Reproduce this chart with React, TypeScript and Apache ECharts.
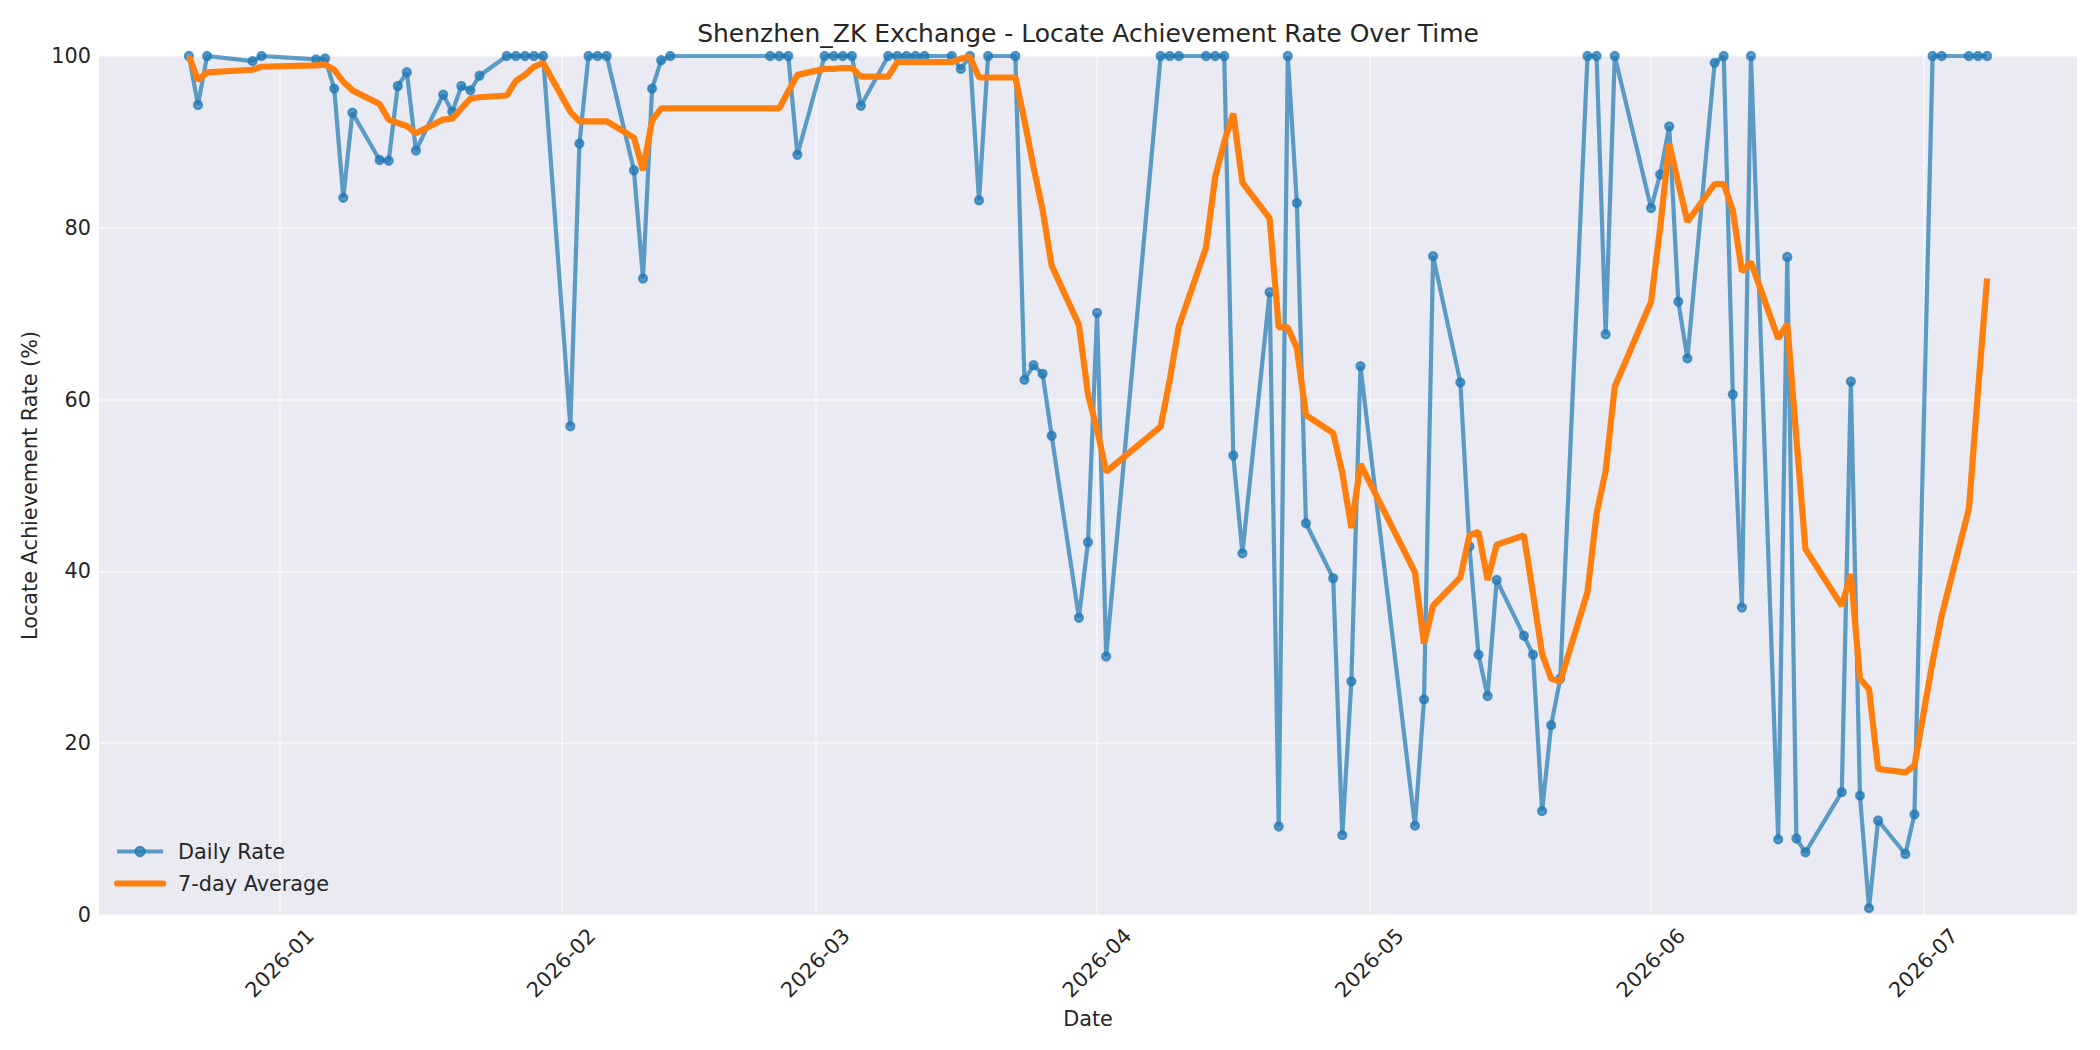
import React, { useEffect, useRef } from "react";
import * as echarts from "echarts";

// trading days shown on the chart
const dates = [
  "2025-12-22", "2025-12-23", "2025-12-24", "2025-12-29", "2025-12-30",
  "2026-01-05", "2026-01-06", "2026-01-07", "2026-01-08", "2026-01-09",
  "2026-01-12", "2026-01-13", "2026-01-14", "2026-01-15", "2026-01-16",
  "2026-01-19", "2026-01-20", "2026-01-21", "2026-01-22", "2026-01-23",
  "2026-01-26", "2026-01-27", "2026-01-28", "2026-01-29", "2026-01-30",
  "2026-02-02", "2026-02-03", "2026-02-04", "2026-02-05", "2026-02-06",
  "2026-02-09", "2026-02-10", "2026-02-11", "2026-02-12", "2026-02-13",
  "2026-02-24", "2026-02-25", "2026-02-26", "2026-02-27",
  "2026-03-02", "2026-03-03", "2026-03-04", "2026-03-05", "2026-03-06",
  "2026-03-09", "2026-03-10", "2026-03-11", "2026-03-12", "2026-03-13",
  "2026-03-16", "2026-03-17", "2026-03-18", "2026-03-19", "2026-03-20",
  "2026-03-23", "2026-03-24", "2026-03-25", "2026-03-26", "2026-03-27",
  "2026-03-30", "2026-03-31", "2026-04-01", "2026-04-02",
  "2026-04-08", "2026-04-09", "2026-04-10",
  "2026-04-13", "2026-04-14", "2026-04-15", "2026-04-16", "2026-04-17",
  "2026-04-20", "2026-04-21", "2026-04-22", "2026-04-23", "2026-04-24",
  "2026-04-27", "2026-04-28", "2026-04-29", "2026-04-30",
  "2026-05-06", "2026-05-07", "2026-05-08",
  "2026-05-11", "2026-05-12", "2026-05-13", "2026-05-14", "2026-05-15",
  "2026-05-18", "2026-05-19", "2026-05-20", "2026-05-21", "2026-05-22",
  "2026-05-25", "2026-05-26", "2026-05-27", "2026-05-28",
  "2026-06-01", "2026-06-02", "2026-06-03", "2026-06-04", "2026-06-05",
  "2026-06-08", "2026-06-09", "2026-06-10", "2026-06-11", "2026-06-12",
  "2026-06-15", "2026-06-16", "2026-06-17", "2026-06-18",
  "2026-06-22", "2026-06-23", "2026-06-24", "2026-06-25", "2026-06-26",
  "2026-06-29", "2026-06-30", "2026-07-02", "2026-07-03",
  "2026-07-06", "2026-07-07", "2026-07-08",
];

const dailyRate = [
  100, 94.3, 100, 99.4, 100,
  99.6, 99.7, 96.2, 83.5, 93.4,
  87.9, 87.8, 96.5, 98.1, 89.0,
  95.5, 93.5, 96.5, 96.0, 97.7,
  100, 100, 100, 100, 100,
  56.9, 89.8, 100, 100, 100,
  86.7, 74.1, 96.2, 99.5, 100,
  100, 100, 100, 88.5,
  100, 100, 100, 100, 94.2,
  100, 100, 100, 100, 100,
  100, 98.5, 100, 83.2, 100,
  100, 62.3, 64.0, 63.0, 55.8,
  34.6, 43.4, 70.1, 30.1,
  100, 100, 100,
  100, 100, 100, 53.5, 42.1,
  72.5, 10.3, 100, 82.9, 45.6,
  39.2, 9.3, 27.2, 63.9,
  10.4, 25.1, 76.7,
  62.0, 42.9, 30.3, 25.5, 39.0,
  32.5, 30.3, 12.1, 22.1, 27.5,
  100, 100, 67.6, 100,
  82.3, 86.2, 91.8, 71.4, 64.8,
  99.2, 100, 60.6, 35.8, 100,
  8.8, 76.6, 8.9, 7.3,
  14.3, 62.1, 13.9, 0.8, 11.0,
  7.1, 11.7, 100, 100,
  100, 100, 100,
];

const avg7 = [
  100, 97.2, 98.1, 98.4, 98.75,
  98.9, 99.0, 98.4, 97.0, 96.0,
  94.4, 92.6, 92.2, 91.85, 91.0,
  92.6, 92.7, 93.9, 95.05, 95.2,
  95.4, 97.1, 97.8, 98.75, 99.2,
  93.5, 92.4, 92.4, 92.4, 92.4,
  90.5, 86.7, 92.5, 93.9, 93.9,
  93.9, 93.9, 95.9, 97.8,
  98.5, 98.5, 98.6, 98.6, 97.6,
  97.6, 99.3, 99.3, 99.3, 99.3,
  99.3, 99.7, 99.9, 97.5, 97.5,
  97.5, 92.5, 87.1, 82.1, 75.6,
  68.7, 60.6, 56.5, 51.6,
  56.85, 62.3, 68.5,
  77.7, 85.9, 90.0, 93.3, 85.25,
  81.1, 68.4, 68.4, 66.0, 58.2,
  56.1, 51.5, 45.05, 52.5,
  39.9, 31.6, 36.0,
  39.3, 44.2, 44.6, 39.0, 43.1,
  44.2, 37.4, 30.4, 27.5, 27.2,
  37.6, 46.7, 51.7, 61.5,
  71.4, 80.0, 89.8, 85.2, 80.7,
  85.1, 85.1, 82.05, 74.9, 76.0,
  67.1, 68.8, 55.5, 42.6,
  36.0, 39.7, 27.5, 26.3, 17.0,
  16.6, 17.4, 29.5, 34.85,
  47.3, 61.0, 74.1,
];

const monthTicks = [
  "2026-01-01", "2026-02-01", "2026-03-01", "2026-04-01",
  "2026-05-01", "2026-06-01", "2026-07-01",
];
const xRange = ["2025-12-12 02:24", "2026-07-17 21:36"];

const toTime = (s: string) => {
  const [d, t] = s.split(" ");
  const [y, m, dd] = d.split("-").map(Number);
  const [h, mi] = (t ?? "0:0").split(":").map(Number);
  return new Date(y, m - 1, dd, h, mi).getTime();
};

const TEXT = "#262626";
const FONT = "DejaVu Sans";
const BLUE = "rgba(31,119,180,0.7)";
const ORANGE = "#ff7f0e";

export default function App() {
  const chartRef = useRef<HTMLDivElement>(null);

  useEffect(() => {
    if (!chartRef.current) return;
    const chart = echarts.init(chartRef.current, null, { renderer: "svg" });
    const ticks = monthTicks.map(toTime);

    const option: any = {
      animation: false,
      backgroundColor: "#ffffff",
      textStyle: { fontFamily: FONT, color: TEXT },
      title: {
        text: "Shenzhen_ZK Exchange - Locate Achievement Rate Over Time",
        left: 1088,
        top: 21,
        padding: 0,
        textAlign: "center",
        textStyle: { fontFamily: FONT, fontSize: 25, fontWeight: "normal", color: TEXT },
      },
      legend: {
        orient: "vertical",
        left: 114,
        top: 841,
        itemWidth: 46,
        itemHeight: 12,
        itemGap: 11,
        padding: 0,
        textStyle: { fontFamily: FONT, fontSize: 20.8, color: TEXT, padding: [0, 0, 0, 10] },
        data: [
          {
            name: "Daily Rate",
            lineStyle: { width: 4.2, color: BLUE },
            itemStyle: { color: BLUE, borderColor: BLUE, borderWidth: 2 },
          },
          {
            name: "7-day Average",
            lineStyle: { width: 6.2, color: ORANGE, cap: "round" },
            itemStyle: { opacity: 0 },
          },
        ],
      },
      grid: {
        left: 99,
        right: 23,
        top: 56,
        bottom: 135,
        show: true,
        backgroundColor: "#EAEAF2",
        borderWidth: 0,
        containLabel: false,
        outerBoundsMode: "none",
      },
      xAxis: {
        // dates as timestamps on a value axis, ticks at month starts
        type: "value",
        min: toTime(xRange[0]),
        max: toTime(xRange[1]),
        name: "Date",
        nameLocation: "middle",
        nameGap: 90,
        nameTextStyle: { fontFamily: FONT, fontSize: 20.8, color: TEXT },
        axisLine: { show: false },
        axisTick: { show: false, customValues: ticks },
        axisLabel: {
          customValues: ticks,
          rotate: 45,
          align: "center",
          verticalAlign: "middle",
          margin: 48,
          fontFamily: FONT,
          fontSize: 20.8,
          color: TEXT,
          formatter: (v: number) => {
            const d = new Date(v);
            return `${d.getFullYear()}-${String(d.getMonth() + 1).padStart(2, "0")}`;
          },
        },
        splitLine: { show: true, lineStyle: { color: "rgba(255,255,255,0.45)", width: 2 } },
      },
      yAxis: {
        type: "value",
        min: 0,
        max: 100,
        interval: 20,
        name: "Locate Achievement Rate (%)",
        nameLocation: "middle",
        nameGap: 58,
        nameTextStyle: { fontFamily: FONT, fontSize: 20.8, color: TEXT },
        axisLine: { show: false },
        axisTick: { show: false },
        axisLabel: { margin: 8, fontFamily: FONT, fontSize: 20.8, color: TEXT },
        splitLine: { show: true, lineStyle: { color: "rgba(255,255,255,0.45)", width: 2 } },
      },
      series: [
        {
          name: "Daily Rate",
          type: "line",
          data: dates.map((d, i) => [toTime(d), dailyRate[i]]),
          symbol: "circle",
          symbolSize: 8.3,
          showAllSymbol: true,
          lineStyle: { color: BLUE, width: 4.2 },
          // fill and edge both translucent, like matplotlib markers
          itemStyle: { color: BLUE, borderColor: BLUE, borderWidth: 2 },
          z: 2,
        },
        {
          name: "7-day Average",
          type: "line",
          data: dates.map((d, i) => [toTime(d), avg7[i]]),
          symbol: "none",
          lineStyle: { color: ORANGE, width: 6.2 },
          itemStyle: { color: ORANGE },
          z: 3,
        },
      ],
    };

    chart.setOption(option);
    return () => chart.dispose();
  }, []);

  return (
    <div
      ref={chartRef}
      style={{ position: "fixed", left: 0, top: 0, width: 2100, height: 1050 }}
    />
  );
}
